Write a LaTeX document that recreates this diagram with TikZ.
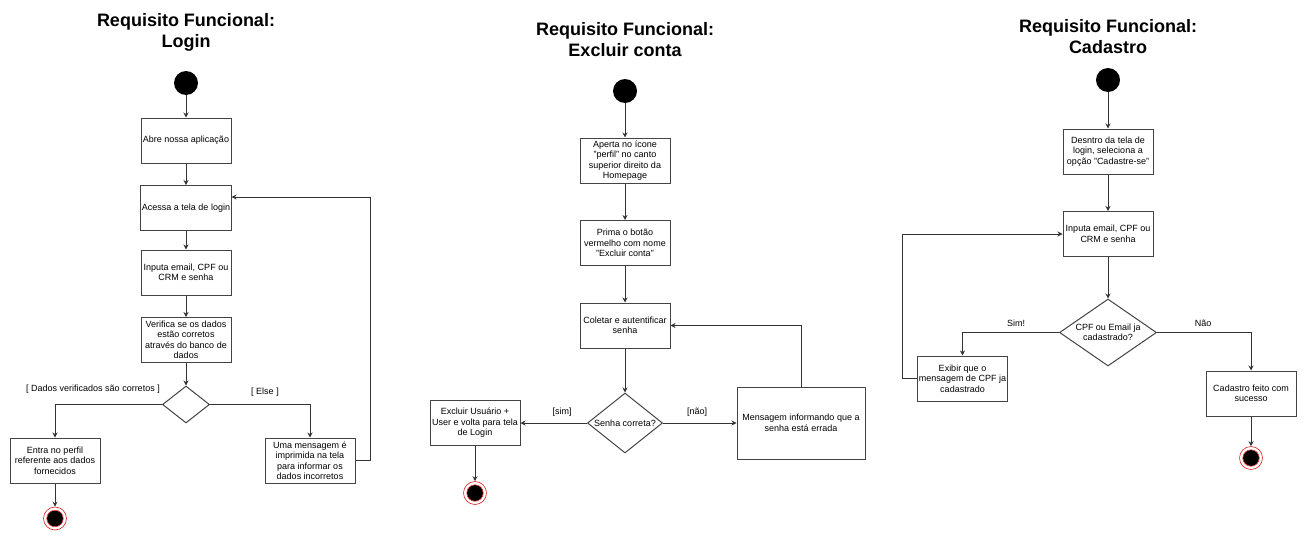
\documentclass[tikz,border=0pt]{standalone}
\usepackage{fontspec}
\setmainfont{Liberation Sans}
\usetikzlibrary{shapes.geometric,arrows.meta}
\definecolor{ln}{HTML}{333333}
\definecolor{bx}{HTML}{444444}
\definecolor{endred}{HTML}{E02020}
\tikzset{
  act/.style={draw=bx, line width=1pt, rectangle, minimum width=90pt, minimum height=45pt,
    inner sep=1pt, align=center, font=\fontsize{9}{10.5}\selectfont, fill=white},
  dec/.style={draw=bx, line width=1pt, diamond, inner sep=0pt},
  dectext/.style={align=center, font=\fontsize{9}{10.5}\selectfont, inner sep=0pt},
  startnode/.style={circle, fill=black, minimum size=24pt, inner sep=0pt},
  endnode/.style={circle, draw=endred, line width=0.6pt, minimum size=23pt, inner sep=0pt,
    path picture={\fill[black] (path picture bounding box.center) circle[radius=8pt];
                  \draw[endred, line width=0.5pt] (path picture bounding box.center) circle[radius=8.3pt];}},
  ttl/.style={align=center, font=\fontsize{18}{21}\selectfont\bfseries},
  lbl/.style={font=\fontsize{9}{10.5}\selectfont, inner sep=0pt},
  flow/.style={draw=ln, line width=1pt, -{Stealth[length=5pt,width=5pt]}}
}
\begin{document}
\begin{tikzpicture}[x=1pt,y=-1pt]
\useasboundingbox[fill=white] (0,0) rectangle (1309,546);

% ---------------- Login ----------------
\node[ttl] (t1) at (186,32.5) {Requisito Funcional:\\Login};
\node[startnode] (s1) at (186,83) {};
\node[act] (l1) at (186,140.5) {Abre nossa aplicação};
\node[act] (l2) at (186,208) {Acessa a tela de login};
\node[act] (l3) at (186,272.5) {Inputa email, CPF ou\\CRM e senha};
\node[act] (l4) at (186,340) {Verifica se os dados\\estão corretos\\através do banco de\\dados};
\node[dec, minimum width=47pt, minimum height=37pt] (ld) at (186,404.5) {};
\node[act] (l5) at (55,460.5) {Entra no perfil\\referente aos dados\\fornecidos};
\node[act] (l6) at (310,460.5) {Uma mensagem é\\imprimida na tela\\para informar os\\dados incorretos};
\node[endnode] (e1) at (55,518.5) {};
\node[lbl] (lb1) at (93,389) {[ Dados verificados são corretos ]};
\node[lbl] (lb2) at (265,392) {[ Else ]};

\draw[flow] (s1) -- (l1);
\draw[flow] (l1) -- (l2);
\draw[flow] (l2) -- (l3);
\draw[flow] (l3) -- (l4);
\draw[flow] (l4) -- (ld);
\draw[flow] (ld.west) -| (l5.north);
\draw[flow] (ld.east) -| (l6.north);
\draw[flow] (l6.east) -- ++(15,0) |- ([yshift=11pt]l2.east);
\draw[flow] (l5) -- (e1);

% ---------------- Excluir conta ----------------
\node[ttl] (t2) at (625,39.5) {Requisito Funcional:\\Excluir conta};
\node[startnode] (s2) at (625,91) {};
\node[act] (x1) at (625,160.5) {Aperta no ícone\\"perfil" no canto\\superior direito da\\Homepage};
\node[act] (x2) at (625,243) {Prima o botão\\vermelho com nome\\"Excluir conta"};
\node[act] (x3) at (625,325.5) {Coletar e autentificar\\senha};
\node[dec, minimum width=75pt, minimum height=60pt] (xd) at (625,423) {};
\node[dectext] (xdt) at (xd.center) {Senha correta?};
\node[act, minimum width=128pt, minimum height=72pt] (xm) at (801,423) {Mensagem informando que a\\senha está errada};
\node[act] (xe) at (475,423) {Excluir Usuário +\\User e volta para tela\\de Login};
\node[endnode] (e2) at (475,493) {};
\node[lbl] (lb3) at (562,412) {[sim]};
\node[lbl] (lb4) at (697,412) {[não]};

\draw[flow] (s2) -- (x1);
\draw[flow] (x1) -- (x2);
\draw[flow] (x2) -- (x3);
\draw[flow] (x3) -- (xd);
\draw[flow] (xd.west) -- (xe.east);
\draw[flow] (xd.east) -- (xm.west);
\draw[flow] (xm.north) |- (x3.east);
\draw[flow] (xe) -- (e2);

% ---------------- Cadastro ----------------
\node[ttl] (t3) at (1108,36.5) {Requisito Funcional:\\Cadastro};
\node[startnode] (s3) at (1108,80) {};
\node[act] (c1) at (1108,151.5) {Desntro da tela de\\login, seleciona a\\opção "Cadastre-se"};
\node[act] (c2) at (1108,234) {Inputa email, CPF ou\\CRM e senha};
\node[dec, minimum width=97pt, minimum height=67pt] (cd) at (1108,332.5) {};
\node[dectext] (cdt) at (cd.center) {CPF ou Email ja\\cadastrado?};
\node[act] (ce) at (962.5,378.5) {Exibir que o\\mensagem de CPF ja\\cadastrado};
\node[act] (cs) at (1251,393.5) {Cadastro feito com\\sucesso};
\node[endnode] (e3) at (1251,458) {};
\node[lbl] (lb5) at (1016,323) {Sim!};
\node[lbl] (lb6) at (1203,323) {Não};

\draw[flow] (s3) -- (c1);
\draw[flow] (c1) -- (c2);
\draw[flow] (c2) -- (cd);
\draw[flow] (cd.west) -| (ce.north);
\draw[flow] (cd.east) -| (cs.north);
\draw[flow] (ce.west) -- ++(-15,0) |- (c2.west);
\draw[flow] (cs) -- (e3);
\end{tikzpicture}
\end{document}
